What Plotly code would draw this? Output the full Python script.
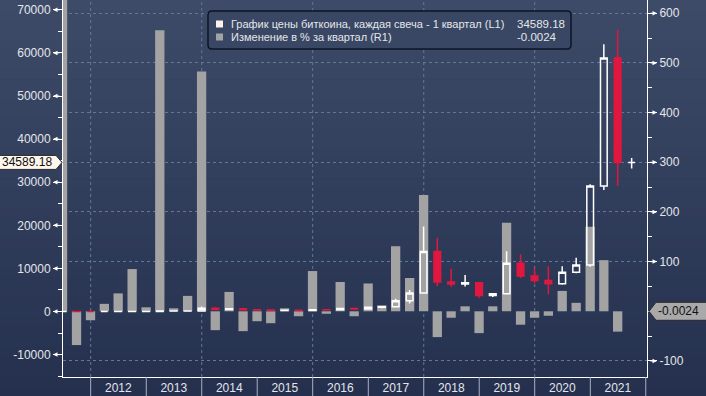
import plotly.graph_objects as go

# ---------------- data ----------------
quarter_end = [
    "2011-06-30", "2011-09-30", "2011-12-31",
    "2012-03-31", "2012-06-30", "2012-09-30", "2012-12-31",
    "2013-03-31", "2013-06-30", "2013-09-30", "2013-12-31",
    "2014-03-31", "2014-06-30", "2014-09-30", "2014-12-31",
    "2015-03-31", "2015-06-30", "2015-09-30", "2015-12-31",
    "2016-03-31", "2016-06-30", "2016-09-30", "2016-12-31",
    "2017-03-31", "2017-06-30", "2017-09-30", "2017-12-31",
    "2018-03-31", "2018-06-30", "2018-09-30", "2018-12-31",
    "2019-03-31", "2019-06-30", "2019-09-30", "2019-12-31",
    "2020-03-31", "2020-06-30", "2020-09-30", "2020-12-31",
    "2021-03-31", "2021-06-30", "2021-09-30",
]
price_open = [0.8, 16.1, 5.1, 4.2, 4.9, 6.7, 12.4, 13.5, 93, 97, 128,
              730, 450, 640, 386, 320, 244, 263, 236, 430, 416, 671, 608,
              964, 1080, 2480, 4300, 13900, 6850, 6400, 6650,
              3700, 4100, 11200, 8250, 7200, 6450, 9100, 10800,
              29100, 58800, 34589.0]
price_high = [31.9, 17.5, 6.0, 7.4, 6.8, 16.4, 14.0, 95, 266, 149, 1150,
              1000, 680, 660, 480, 320, 265, 315, 500, 465, 780, 680, 980,
              1290, 2980, 5000, 19700, 17100, 9900, 8480, 6800,
              4300, 14000, 13300, 10100, 10500, 10500, 12500, 29500,
              62000, 65300, 35600]
price_low = [0.8, 4.6, 2.0, 4.2, 4.7, 6.4, 9.8, 13.2, 50, 64, 120,
             400, 340, 350, 280, 170, 215, 200, 236, 350, 415, 470, 600,
             780, 1000, 1830, 4100, 5900, 5750, 5800, 3150,
             3350, 4050, 7800, 6600, 4000, 6200, 8900, 10400,
             28200, 29200, 33200]
price_close = [16.1, 5.1, 4.2, 4.9, 6.7, 12.4, 13.5, 93, 97, 128, 730,
               450, 640, 386, 320, 244, 263, 236, 430, 416, 671, 608, 964,
               1080, 2480, 4300, 13900, 6850, 6400, 6650, 3700,
               4100, 11200, 8250, 7200, 6450, 9100, 10800, 29100,
               58800, 34590.0, 34589.18]
pct_change = [1960, -68, -18, 15, 36, 85, 8, 566, 6, 31, 483,
              -38, 39, -40, -20, -24, 6, -10, 81, -5, 59, -10, 56,
              12, 131, 67, 234, -52, -13, 10, -44,
              10, 178, -27, -13, -9, 41, 17, 170,
              103, -41, -0.0024]

year_labels = ["2012", "2013", "2014", "2015", "2016", "2017", "2018", "2019", "2020", "2021"]
left_ticks = [-10000, 0, 10000, 20000, 30000, 40000, 50000, 60000, 70000]
right_ticks = [-100, 100, 200, 300, 400, 500, 600]

series_price_name = "График цены биткоина, каждая свеча - 1 квартал (L1)"
series_pct_name = "Изменение в % за квартал (R1)"

# ---------------- geometry helpers ----------------
W, H = 706, 396
ML, MR, MT, MB = 63, 59, 0, 19
PW, PH = W - ML - MR, H - MT - MB


def px_x(p):
    return (p - ML) / PW


def px_y(p):
    return (H - MB - p) / PH


FONT = "Liberation Sans, Arial, sans-serif"
TXT = "#e4e6ea"
GRID = "#64779b"
RED = "#e0173f"

fig = go.Figure()

fig.add_trace(go.Bar(
    x=quarter_end, y=pct_change, yaxis="y",
    marker=dict(color="#a3a3a3", line=dict(width=0)),
    showlegend=False, hoverinfo="skip",
))

fig.add_trace(go.Candlestick(
    x=quarter_end, open=price_open, high=price_high, low=price_low, close=price_close,
    yaxis="y2", whiskerwidth=0,
    increasing=dict(line=dict(color="#ffffff", width=1.5), fillcolor="rgba(0,0,0,0)"),
    decreasing=dict(line=dict(color=RED, width=1.5), fillcolor=RED),
    showlegend=False, hoverinfo="skip",
))

shapes = []
# background gradient
top_c = (61, 75, 104)
bot_c = (36, 48, 78)
n = 40
for i in range(n):
    t = (i + 0.5) / n
    c = tuple(int(round(top_c[k] + (bot_c[k] - top_c[k]) * t)) for k in range(3))
    y0 = i * H / n
    y1 = (i + 1) * H / n + 0.6
    shapes.append(dict(type="rect", xref="paper", yref="paper", layer="below",
                       x0=px_x(0), x1=px_x(W), y0=px_y(y1), y1=px_y(y0),
                       fillcolor="rgb(%d,%d,%d)" % c, line=dict(width=0)))

# vertical dashed gridlines every two years
for yr in range(2012, 2021, 2):
    shapes.append(dict(type="line", xref="x", yref="paper", layer="below",
                       x0=f"{yr}-01-01", x1=f"{yr}-01-01", y0=0, y1=1,
                       line=dict(color=GRID, width=1, dash="3px,3px")))
# year separators in the label band
for yr in range(2012, 2023):
    shapes.append(dict(type="line", xref="x", yref="paper",
                       x0=f"{yr}-01-01", x1=f"{yr}-01-01", y0=px_y(H), y1=0,
                       line=dict(color="#a9b1c2", width=1)))

# legend box
lx0, lx1, ly0, ly1, r = 208, 571, 11, 49, 4
path = (f"M{px_x(lx0 + r)},{px_y(ly0)} L{px_x(lx1 - r)},{px_y(ly0)} "
        f"Q{px_x(lx1)},{px_y(ly0)} {px_x(lx1)},{px_y(ly0 + r)} "
        f"L{px_x(lx1)},{px_y(ly1 - r)} Q{px_x(lx1)},{px_y(ly1)} {px_x(lx1 - r)},{px_y(ly1)} "
        f"L{px_x(lx0 + r)},{px_y(ly1)} Q{px_x(lx0)},{px_y(ly1)} {px_x(lx0)},{px_y(ly1 - r)} "
        f"L{px_x(lx0)},{px_y(ly0 + r)} Q{px_x(lx0)},{px_y(ly0)} {px_x(lx0 + r)},{px_y(ly0)} Z")
shapes.append(dict(type="path", xref="paper", yref="paper", path=path,
                   fillcolor="rgb(57,71,100)", line=dict(color="#0d1424", width=1.5)))
shapes.append(dict(type="rect", xref="paper", yref="paper",
                   x0=px_x(216), x1=px_x(223), y0=px_y(27.5), y1=px_y(20.5),
                   fillcolor="#fff3ec", line=dict(width=0)))
shapes.append(dict(type="rect", xref="paper", yref="paper",
                   x0=px_x(216), x1=px_x(223), y0=px_y(40.5), y1=px_y(33.5),
                   fillcolor="#a3a3a3", line=dict(width=0)))

# last-value tags
last_price = price_close[-1]
last_pct = pct_change[-1]
shapes.append(dict(type="path", xref="paper", yref="y2", xsizemode="pixel", ysizemode="pixel",
                   xanchor=0, yanchor=last_price,
                   path="M-64,-7 L-7,-7 L-1,0 L-7,7 L-64,7 Z",
                   fillcolor="#fff6ee", line=dict(color="#2a2a2a", width=1)))
shapes.append(dict(type="path", xref="paper", yref="y", xsizemode="pixel", ysizemode="pixel",
                   xanchor=1, yanchor=last_pct,
                   path="M2,0 L9,-9 L62,-9 L62,9 L9,9 Z",
                   fillcolor="#a9a9a9", line=dict(color="#2a2a2a", width=1)))

annotations = []
# arrow-shaped major tick markers
for v in left_ticks:
    annotations.append(dict(xref="paper", yref="y2", x=px_x(53), y=v, text="",
                            showarrow=True, ax=8, ay=0, axref="pixel", ayref="pixel",
                            arrowhead=2, arrowsize=0.9, arrowwidth=1, arrowcolor="#ffffff",
                            standoff=0, startstandoff=0))
for v in right_ticks:
    annotations.append(dict(xref="paper", yref="y", x=px_x(657), y=v, text="",
                            showarrow=True, ax=-8, ay=0, axref="pixel", ayref="pixel",
                            arrowhead=2, arrowsize=0.9, arrowwidth=1, arrowcolor="#ffffff",
                            standoff=0, startstandoff=0))

annotations += [
    dict(xref="paper", yref="y2", x=px_x(54), y=last_price, text=f"{last_price:.2f}",
         xanchor="right", yanchor="middle", showarrow=False,
         font=dict(family=FONT, size=12, color="#111111")),
    dict(xref="paper", yref="y", x=px_x(656), y=last_pct, text=f"{last_pct:.4f}",
         xanchor="left", yanchor="middle", showarrow=False,
         font=dict(family=FONT, size=12, color="#111111")),
    dict(xref="paper", yref="paper", x=px_x(229), y=px_y(24), text=series_price_name,
         xanchor="left", yanchor="middle", showarrow=False,
         font=dict(family=FONT, size=11, color=TXT)),
    dict(xref="paper", yref="paper", x=px_x(567), y=px_y(24), text=f"{last_price:.2f}",
         xanchor="right", yanchor="middle", showarrow=False,
         font=dict(family=FONT, size=11.5, color=TXT)),
    dict(xref="paper", yref="paper", x=px_x(229), y=px_y(37), text=series_pct_name,
         xanchor="left", yanchor="middle", showarrow=False,
         font=dict(family=FONT, size=11, color=TXT)),
    dict(xref="paper", yref="paper", x=px_x(559), y=px_y(37), text=f"{last_pct:.4f}",
         xanchor="right", yanchor="middle", showarrow=False,
         font=dict(family=FONT, size=11.5, color=TXT)),
]

year_mid = [f"{y}-07-01" for y in year_labels]

fig.update_layout(
    width=W, height=H, autosize=False,
    margin=dict(l=ML, r=MR, t=MT, b=MB, pad=0, autoexpand=False),
    template="none",
    paper_bgcolor="rgb(36,48,78)", plot_bgcolor="rgba(0,0,0,0)",
    hovermode=False, showlegend=False,
    bargap=0.32,
    font=dict(family=FONT, size=12, color=TXT),
    xaxis=dict(
        type="date", range=["2011-07-03", "2022-01-09"],
        rangeslider=dict(visible=False), automargin=False,
        tickmode="array", tickvals=year_mid, ticktext=year_labels,
        ticks="", ticklen=0, showgrid=False, zeroline=False,
        showline=True, linecolor="#ffffff", linewidth=1,
        tickfont=dict(family=FONT, size=12, color=TXT),
    ),
    yaxis=dict(
        side="right", range=[-132.3, 626.7], automargin=False,
        tickmode="array", tickvals=right_ticks, ticktext=[str(v) for v in right_ticks],
        ticks="outside", ticklen=9, tickcolor="#ffffff", tickwidth=1,
        showgrid=True, gridcolor=GRID, griddash="3px,3px", gridwidth=1,
        zeroline=False, showline=True, linecolor="#ffffff", linewidth=1,
        minor=dict(tickmode="linear", tick0=0, dtick=50, ticks="outside",
                   ticklen=4, tickcolor="#ffffff", showgrid=False),
        tickfont=dict(family=FONT, size=12, color=TXT),
    ),
    yaxis2=dict(
        side="left", overlaying="y", range=[-15197, 72274], automargin=False,
        tickmode="array", tickvals=left_ticks, ticktext=[str(v) for v in left_ticks],
        ticks="outside", ticklen=9, tickcolor="#ffffff", tickwidth=1,
        showgrid=False, zeroline=False,
        showline=True, linecolor="#ffffff", linewidth=1,
        minor=dict(tickmode="linear", tick0=0, dtick=5000, ticks="outside",
                   ticklen=4, tickcolor="#ffffff", showgrid=False),
        tickfont=dict(family=FONT, size=12, color=TXT),
    ),
    shapes=shapes,
    annotations=annotations,
)

fig.write_html("out.html", config={"displayModeBar": False},
               post_script="document.body.style.margin='0';document.body.style.overflow='hidden';")
